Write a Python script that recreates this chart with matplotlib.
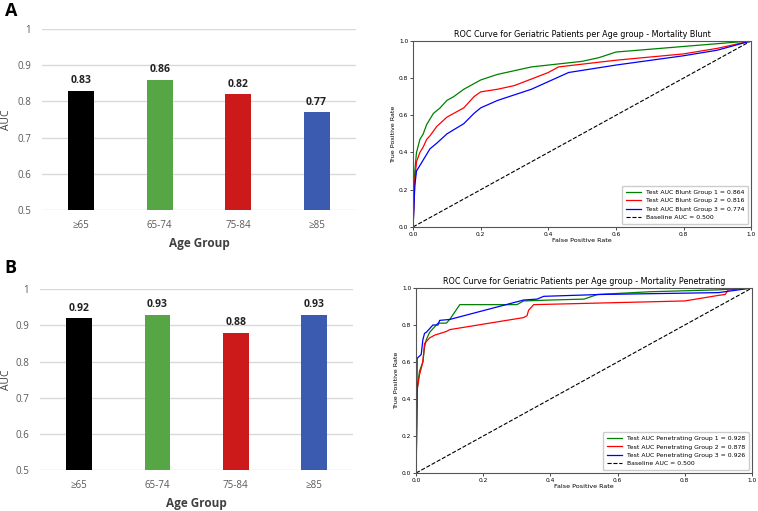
import matplotlib
matplotlib.use('Agg')
import matplotlib.pyplot as plt

groups = ['\u226565', '65-74', '75-84', '\u226585']
auc_blunt = [0.83, 0.86, 0.82, 0.77]
auc_pen = [0.92, 0.93, 0.88, 0.93]
bar_colors = ['#000000', '#56a646', '#cc1a1a', '#3a5bb0']

# ROC curves, blunt
b1_fpr = [0, 0.005, 0.01, 0.02, 0.03, 0.04, 0.05, 0.06, 0.08, 0.1, 0.12, 0.15, 0.18, 0.2, 0.25, 0.3, 0.35, 0.45, 0.5, 0.55, 0.6, 0.7, 0.8, 0.9, 1]
b1_tpr = [0, 0.3, 0.4, 0.47, 0.5, 0.55, 0.58, 0.61, 0.64, 0.68, 0.7, 0.74, 0.77, 0.79, 0.82, 0.84, 0.86, 0.88, 0.89, 0.91, 0.94, 0.955, 0.97, 0.985, 1]
b2_fpr = [0, 0.005, 0.01, 0.02, 0.03, 0.04, 0.05, 0.07, 0.1, 0.15, 0.18, 0.2, 0.25, 0.3, 0.4, 0.43, 0.6, 0.8, 0.9, 1]
b2_tpr = [0, 0.25, 0.35, 0.4, 0.43, 0.47, 0.49, 0.54, 0.59, 0.64, 0.7, 0.726, 0.74, 0.76, 0.83, 0.86, 0.896, 0.93, 0.96, 1]
b3_fpr = [0, 0.005, 0.01, 0.02, 0.03, 0.04, 0.05, 0.07, 0.1, 0.15, 0.18, 0.2, 0.25, 0.3, 0.35, 0.46, 0.6, 0.8, 0.9, 1]
b3_tpr = [0, 0.22, 0.3, 0.33, 0.36, 0.39, 0.42, 0.45, 0.5, 0.555, 0.61, 0.64, 0.68, 0.71, 0.74, 0.83, 0.87, 0.92, 0.95, 1]

# ROC curves, penetrating
p1_fpr = [0, 0.003, 0.01, 0.02, 0.025, 0.03, 0.04, 0.05, 0.065, 0.09, 0.1, 0.13, 0.3, 0.32, 0.4, 0.5, 0.54, 0.7, 0.9, 1]
p1_tpr = [0, 0.45, 0.55, 0.6, 0.68, 0.72, 0.76, 0.78, 0.81, 0.81, 0.83, 0.91, 0.91, 0.93, 0.935, 0.94, 0.965, 0.98, 0.99, 1]
p2_fpr = [0, 0.003, 0.01, 0.02, 0.025, 0.04, 0.055, 0.09, 0.1, 0.32, 0.33, 0.335, 0.35, 0.8, 0.9, 0.92, 0.93, 1]
p2_tpr = [0, 0.45, 0.53, 0.6, 0.7, 0.73, 0.745, 0.765, 0.775, 0.84, 0.85, 0.88, 0.91, 0.93, 0.96, 0.965, 0.99, 1]
p3_fpr = [0, 0.003, 0.015, 0.02, 0.025, 0.03, 0.04, 0.05, 0.065, 0.07, 0.1, 0.32, 0.36, 0.38, 0.55, 0.9, 1]
p3_tpr = [0, 0.62, 0.64, 0.72, 0.755, 0.76, 0.78, 0.8, 0.8, 0.825, 0.83, 0.935, 0.94, 0.955, 0.965, 0.975, 1]

plt.rcParams['font.family'] = ['Open Sans', 'DejaVu Sans']

fig = plt.figure(figsize=(7.58, 5.11), dpi=100)


def bar_panel(rect, vals, letter, letter_y, lab_x, lab_y):
    ax = fig.add_axes(rect)
    x = range(len(groups))
    ax.bar(x, vals, width=0.33, color=bar_colors, zorder=3)
    for i, v in enumerate(vals):
        ax.text(i, v + 0.012, '%.2f' % v, ha='center', va='bottom',
                fontsize=7.5, fontweight='bold', color='#222222')
    ax.set_ylim(0.5, 1.0)
    ax.set_xlim(-0.5, 3.5)
    ax.set_yticks([0.5, 0.6, 0.7, 0.8, 0.9, 1.0])
    ax.set_yticklabels(['0.5', '0.6', '0.7', '0.8', '0.9', '1'])
    ax.set_xticks(list(x))
    ax.set_xticklabels(groups)
    ax.grid(axis='y', color='#d9d9d9', lw=1, zorder=0)
    for s in ax.spines.values():
        s.set_visible(False)
    ax.tick_params(axis='y', length=0, labelsize=7, colors='#595959', pad=8)
    ax.tick_params(axis='x', length=0, labelsize=7, colors='#595959', pad=7)
    ax.set_ylabel('AUC', fontsize=7.5, color='#404040')
    ax.yaxis.set_label_coords(lab_x, 0.5)
    ax.set_xlabel('Age Group', fontsize=8.5, fontweight='bold', color='#404040')
    ax.xaxis.set_label_coords(0.5, lab_y)
    fig.text(0.006, letter_y, letter, fontsize=13, fontweight='bold', va='center')
    return ax


def roc_panel(rect, curves, labels, title):
    ax = fig.add_axes(rect)
    for (f, t), lab, c in zip(curves, labels, ['green', 'red', 'blue']):
        ax.plot(f, t, color=c, lw=0.9, label=lab)
    ax.plot([0, 1], [0, 1], 'k--', lw=0.8, label='Baseline AUC = 0.500')
    ax.set_xlim(0, 1)
    ax.set_ylim(0, 1)
    ax.set_title(title, fontsize=5.8, pad=3, family='DejaVu Sans')
    ax.set_xlabel('False Positive Rate', fontsize=4.6, labelpad=1, family='DejaVu Sans')
    ax.set_ylabel('True Positive Rate', fontsize=4.6, labelpad=2, family='DejaVu Sans')
    ax.tick_params(labelsize=4.2, length=2, width=0.5, pad=1.5)
    for t in ax.get_xticklabels() + ax.get_yticklabels():
        t.set_family('DejaVu Sans')
    for s in ax.spines.values():
        s.set_color('#555555')
        s.set_linewidth(0.8)
    ax.legend(loc='lower right', handlelength=2.5,
              borderpad=0.6, labelspacing=0.5, framealpha=1, edgecolor='#cccccc',
              prop={'family': 'DejaVu Sans', 'size': 4.4})
    return ax


bar_panel([0.0554, 0.589, 0.414, 0.354], auc_blunt, 'A', 0.978, -0.095, -0.15)
bar_panel([0.0528, 0.080, 0.413, 0.354], auc_pen, 'B', 0.476, -0.09, -0.15)

roc_panel([0.545, 0.556, 0.446, 0.364],
          [(b1_fpr, b1_tpr), (b2_fpr, b2_tpr), (b3_fpr, b3_tpr)],
          ['Test AUC Blunt Group 1 = 0.864', 'Test AUC Blunt Group 2 = 0.816',
           'Test AUC Blunt Group 3 = 0.774'],
          'ROC Curve for Geriatric Patients per Age group - Mortality Blunt')
roc_panel([0.549, 0.0744, 0.443, 0.362],
          [(p1_fpr, p1_tpr), (p2_fpr, p2_tpr), (p3_fpr, p3_tpr)],
          ['Test AUC Penetrating Group 1 = 0.928', 'Test AUC Penetrating Group 2 = 0.878',
           'Test AUC Penetrating Group 3 = 0.926'],
          'ROC Curve for Geriatric Patients per Age group - Mortality Penetrating')

fig.savefig('out.png', dpi=100)
